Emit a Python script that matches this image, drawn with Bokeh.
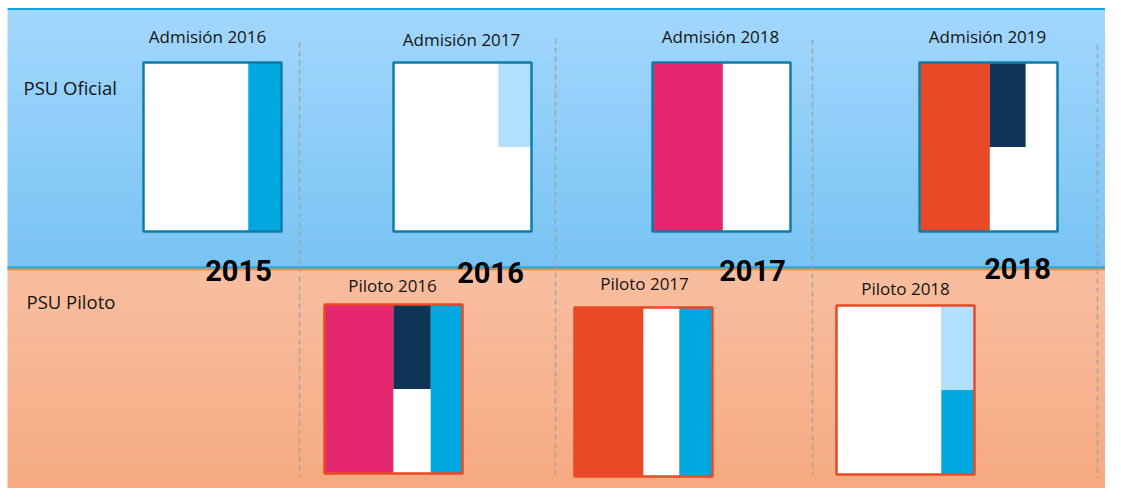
from bokeh.plotting import figure
from bokeh.models import Range1d
from bokeh.core.properties import value
from bokeh.embed import file_html
from bokeh.resources import INLINE

# ---------------- data ----------------
row_labels = ["PSU Oficial", "PSU Piloto"]
year_labels = ["2015", "2016", "2017", "2018"]

oficial_titles = ["Admisión 2016", "Admisión 2017", "Admisión 2018", "Admisión 2019"]
piloto_titles = ["Piloto 2016", "Piloto 2017", "Piloto 2018"]

# segments of each box: (x0, x1, y0, y1) as fractions of the box, plus colour key
oficial_segments = [
    [(0.00, 0.76, 0.00, 1.00, "white"), (0.76, 1.00, 0.00, 1.00, "blue")],
    [(0.00, 1.00, 0.00, 1.00, "white"), (0.76, 1.00, 0.00, 0.50, "lightblue")],
    [(0.00, 0.51, 0.00, 1.00, "pink"), (0.51, 1.00, 0.00, 1.00, "white")],
    [(0.00, 0.51, 0.00, 1.00, "red"), (0.51, 0.77, 0.00, 0.50, "navy"),
     (0.51, 1.00, 0.50, 1.00, "white"), (0.77, 1.00, 0.00, 0.50, "white")],
]
piloto_segments = [
    [(0.00, 0.50, 0.00, 1.00, "pink"), (0.50, 0.77, 0.00, 0.50, "navy"),
     (0.50, 0.77, 0.50, 1.00, "white"), (0.77, 1.00, 0.00, 1.00, "blue")],
    [(0.00, 0.50, 0.00, 1.00, "red"), (0.50, 0.76, 0.00, 1.00, "white"),
     (0.76, 1.00, 0.00, 1.00, "blue")],
    [(0.00, 0.76, 0.00, 1.00, "white"), (0.76, 1.00, 0.00, 0.50, "lightblue"),
     (0.76, 1.00, 0.50, 1.00, "blue")],
]

palette = {"white": "#ffffff", "blue": "#00a8e0", "lightblue": "#b0e0fc",
           "pink": "#e5276f", "red": "#e84a27", "navy": "#0f3556"}

# ---------------- layout (pixel space) ----------------
W, H = 1105, 488
p = figure(width=W, height=H, output_backend="svg", toolbar_location=None,
           x_range=Range1d(0, W), y_range=Range1d(H, 0),
           min_border=0, outline_line_color=None)
p.axis.visible = False
p.grid.visible = False
p.background_fill_color = "white"
p.border_fill_color = "white"


def lerp(c1, c2, t):
    a = [int(c1[i:i + 2], 16) for i in (1, 3, 5)]
    b = [int(c2[i:i + 2], 16) for i in (1, 3, 5)]
    return "#%02x%02x%02x" % tuple(round(a[k] + (b[k] - a[k]) * t) for k in range(3))


def gradient(x0, x1, y0, y1, c_top, c_bot, n=40):
    h = (y1 - y0) / n
    tops, bots, cols = [], [], []
    for i in range(n):
        tops.append(y0 + i * h)
        bots.append(y0 + (i + 1) * h + 0.6)
        cols.append(lerp(c_top, c_bot, i / (n - 1)))
    p.quad(left=x0, right=x1, top=tops, bottom=bots, fill_color=cols, line_color=None)


X0, X1 = 7, 1121
Y_TOP, Y_MID, Y_BOT = 9, 268, 504
gradient(X0, X1, Y_TOP, Y_MID, "#a2d7fd", "#78c3f3")
gradient(X0, X1, Y_MID, Y_BOT, "#f8bea0", "#f6a87e")
p.segment(x0=[X0], x1=[X1], y0=[Y_TOP - 0.5], y1=[Y_TOP - 0.5], line_color="#12a6dc", line_width=2)
p.segment(x0=[X0], x1=[X1], y0=[Y_MID - 1], y1=[Y_MID - 1], line_color="#1aa2d2", line_width=2)
p.segment(x0=[X0], x1=[X1], y0=[Y_MID + 1], y1=[Y_MID + 1], line_color="#f0842f", line_width=1.5)

# dashed separators
sep_x = [299, 555, 812, 1097]
sep_top = [42, 38, 39, 44]
sep_bot = [476, 474, 474, 478]
p.segment(x0=sep_x, x1=sep_x, y0=sep_top, y1=sep_bot, line_color="#a0a0a0",
          line_width=1.4, line_dash="5 4")

# boxes
oficial_pos = [(143, 62), (393, 62), (652, 62), (919, 62)]
piloto_pos = [(324, 304), (574, 307), (836, 305)]
BW, BH = 138, 169
oficial_title_pos = [(207, 36), (461, 39), (720, 36), (987, 36)]
piloto_title_pos = [(392, 285), (644, 283), (905, 288)]


def draw_box(pos, segs, border):
    x, y = pos
    l, r, t, b, c = [], [], [], [], []
    for (fx0, fx1, fy0, fy1, key) in segs:
        l.append(x + fx0 * BW)
        r.append(x + fx1 * BW)
        t.append(y + fy0 * BH)
        b.append(y + fy1 * BH)
        c.append(palette[key])
    p.quad(left=l, right=r, top=t, bottom=b, fill_color=c, line_color=None)
    p.quad(left=[x], right=[x + BW], top=[y], bottom=[y + BH], fill_color=None,
           line_color=border, line_width=2.5)


for pos, segs in zip(oficial_pos, oficial_segments):
    draw_box(pos, segs, "#0f7ca8")
for pos, segs in zip(piloto_pos, piloto_segments):
    draw_box(pos, segs, "#e84a27")

font = value("Open Sans")
p.text(x=[tp[0] for tp in oficial_title_pos], y=[tp[1] for tp in oficial_title_pos],
       text=oficial_titles, text_align="center", text_baseline="middle",
       text_font=font, text_font_size="17px", text_color="#141414")
p.text(x=[tp[0] for tp in piloto_title_pos], y=[tp[1] for tp in piloto_title_pos],
       text=piloto_titles, text_align="center", text_baseline="middle",
       text_font=font, text_font_size="17px", text_color="#141414")
p.text(x=[23, 26], y=[87, 301], text=row_labels, text_align="left",
       text_baseline="middle", text_font=font, text_font_size="18.5px", text_color="#141414")

year_x = [238, 490, 752, 1017]
year_y = [270, 272, 270, 268]
p.text(x=year_x, y=year_y, text=year_labels, text_align="center", text_baseline="middle",
       text_font=value("Roboto"), text_font_style="bold", text_font_size="29px",
       text_color="#000000")

open("out.html", "w").write(file_html(p, INLINE))
